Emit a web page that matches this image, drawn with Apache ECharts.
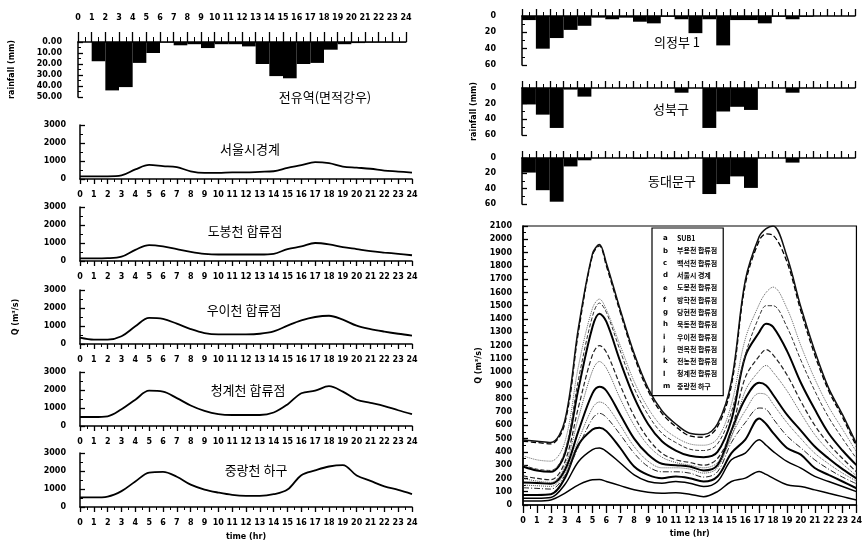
<!DOCTYPE html>
<html><head><meta charset="utf-8">
<script src="https://cdn.jsdelivr.net/npm/echarts@6/dist/echarts.min.js"></script>
<style>html,body{margin:0;padding:0;background:#fff}#c{width:865px;height:547px}</style>
</head><body><div id="c"></div>
<script>
// ---------- DATA ----------
const hours = [0,1,2,3,4,5,6,7,8,9,10,11,12,13,14,15,16,17,18,19,20,21,22,23,24];
const hoursFine = [0,1,2,3,4,5,5.5,6,7,8,9,10,11,12,13,14,15,16,17,17.5,18,19,20,21,22,23,24];

// hourly rainfall (mm), hour i -> i+1
const areaRain   = [0,17.5,44,41,19,10,0.5,3,2,5.5,2,2,4,20,31,33,20,19,7,2,1,0.5,0.5,0.5];
const uijeongbu  = [5,40,27,17,12,2,4,2,7,9,1,4,21,4,36,5,5,9,1,4,1,0,0,0];
const seongbuk   = [21,34,51,2,11,0,0,0,0,0,0,6,0,51,30,24,28,0,0,6,0,0,0,0];
const dongdaemun = [19,42,57,11,3,0,0,0,1,0,1.5,1.5,0,47,34,24,39,0,0,6,0,0,0,0];

// left discharge panels (m3/s) at hours 0..24
const qSeoulBoundary = [150,150,150,200,530,780,720,660,430,340,340,370,370,400,430,620,770,940,880,690,630,570,470,415,350];
const qDobong        = [150,150,160,240,620,880,810,660,510,400,360,360,360,360,400,660,810,1000,925,770,660,550,470,400,320];
const qUi            = [350,240,240,430,980,1450,1390,1130,830,610,540,540,540,570,700,1020,1310,1500,1570,1350,1020,830,690,570,470];
const qCheonggye     = [500,500,540,930,1460,1960,1910,1550,1140,840,660,610,610,610,750,1200,1820,1960,2210,1910,1460,1290,1110,875,660];
const qJungnang      = [530,530,580,880,1420,1910,1950,1680,1240,970,800,670,620,620,710,970,1770,2035,2250,2330,1750,1450,1150,950,720];

// right main chart (m3/s) at hoursFine
const letters = ['a','b','c','d','e','f','g','h','i','j','k','l','m'];
const names = ['SUB1','부용천 합류점','백석천 합류점','서울시 경계','도봉천 합류점','방학천 합류점','당현천 합류점','묵동천 합류점','우이천 합류점','면목천 합류점','전농천 합류점','청계천 합류점','중랑천 하구'];
const qA = [30,30,38,88,152,190,192,177,146,114,96,88,93,81,63,101,177,202,253,230,202,152,139,114,88,63,38];
const qB = [50,50,56,152,328,417,429,404,316,227,177,164,177,164,139,177,341,391,492,450,404,328,278,215,177,139,101];
const qC = [76,76,81,200,455,568,581,556,429,290,227,202,215,202,177,215,391,492,652,610,543,429,379,278,227,177,126];
const qD = [130,125,120,220,440,650,690,660,530,390,290,250,250,240,210,250,470,620,730,720,650,520,430,340,270,210,160];
const qE = [150,145,140,240,490,730,775,750,600,440,330,280,280,270,240,280,520,710,840,830,760,620,500,390,310,240,180];
const qF = [170,165,160,260,560,840,890,860,680,500,380,310,300,290,260,300,560,800,920,900,830,680,560,440,350,270,200];
const qG = [200,180,170,290,660,1010,1080,1030,800,600,450,360,320,300,280,320,510,860,1010,1050,1000,860,690,530,410,310,220];
const qH = [220,200,190,320,740,1130,1200,1150,900,670,500,390,340,320,300,350,560,960,1120,1170,1130,980,780,600,460,350,250];
const qI = [290,260,250,380,880,1340,1440,1380,1080,810,610,480,410,370,360,400,640,1120,1300,1365,1340,1160,920,720,540,410,300];
const qJ = [300,270,260,400,950,1420,1520,1450,1160,880,680,540,470,420,410,460,700,1130,1420,1500,1500,1340,1090,860,660,500,350];
const qK = [370,340,330,470,1050,1480,1550,1470,1200,930,730,590,510,460,450,500,760,1250,1510,1600,1640,1480,1200,950,740,570,400];
const qL = [480,470,460,610,1310,1880,1950,1800,1450,1120,860,690,590,520,510,590,900,1660,1990,2040,2030,1830,1460,1130,860,660,440];
const qM = [490,480,470,630,1340,1890,1960,1820,1470,1140,880,710,610,540,530,610,930,1690,2020,2080,2100,1870,1490,1160,880,680,460];
const mainSeries = [qA,qB,qC,qD,qE,qF,qG,qH,qI,qJ,qK,qL,qM];

// ---------- STYLE ----------
const F = 'DejaVu Sans', K = 'Noto Sans CJK KR';
const plain = v => String(v);
const lab = {fontFamily:F, fontSize:8, fontWeight:'bold', color:'#000', formatter:plain};
const aLine = {show:true, onZero:false, lineStyle:{color:'#000', width:1.5}};
const styles = [
  {type:'solid', width:1.5, color:'#000'},
  {type:'solid', width:1.5, color:'#000'},
  {type:'solid', width:2, color:'#000'},
  {type:[6,2,1,2], width:1, color:'#222'},
  {type:'dotted', width:1, color:'#555'},
  {type:'solid', width:2, color:'#000'},
  {type:'dotted', width:1, color:'#555'},
  {type:'dashed', width:1.2, color:'#222'},
  {type:'solid', width:2, color:'#000'},
  {type:'dashed', width:1, color:'#333'},
  {type:'dotted', width:1, color:'#666'},
  {type:'dashed', width:1.3, color:'#000'},
  {type:'solid', width:1.5, color:'#111'}
];

const grids = [
  {left:78, top:42, width:328, height:55},
  {left:80, top:125, width:332, height:54},
  {left:80, top:207, width:332, height:54},
  {left:80, top:290, width:332, height:54},
  {left:80, top:372, width:332, height:54},
  {left:80, top:453, width:332, height:54},
  {left:522, top:16, width:333, height:49},
  {left:522, top:88, width:333, height:47},
  {left:522, top:158, width:333, height:46},
  {left:523, top:226, width:337, height:279, show:true, borderColor:'#000', borderWidth:1.2, backgroundColor:'transparent'}
];

const xAxes = [], yAxes = [], series = [];
function xAx(gi, opt) {
  xAxes.push(Object.assign({
    gridIndex:gi, type:'value', min:0, max:24, interval:1,
    axisLine:aLine, splitLine:{show:false},
    axisTick:{show:true, length:5, lineStyle:{color:'#000', width:1.3}},
    minorTick:{show:true, splitNumber:2, length:3, lineStyle:{color:'#000', width:1}},
    axisLabel:Object.assign({}, lab, {margin:12})
  }, opt));
}
function yAx(gi, opt) {
  yAxes.push(Object.assign({
    gridIndex:gi, type:'value',
    axisLine:aLine, splitLine:{show:false},
    axisTick:{show:true, inside:true, length:5, lineStyle:{color:'#000', width:1.3}},
    minorTick:{show:true, splitNumber:2, length:3, lineStyle:{color:'#000', width:1}},
    axisLabel:Object.assign({}, lab, {margin:14})
  }, opt));
}
function rainBars(gi, data) {
  series.push({
    type:'custom', xAxisIndex:gi, yAxisIndex:gi,
    data:data.map((v,i)=>[hours[i], hours[i+1], v]),
    encode:{x:[0,1], y:2},
    renderItem:(params, api)=>{
      const p0 = api.coord([api.value(0), 0]);
      const p1 = api.coord([api.value(1), api.value(2)]);
      return {type:'rect', shape:{x:p0[0], y:Math.min(p0[1],p1[1]), width:p1[0]-p0[0], height:Math.abs(p1[1]-p0[1])}, style:{fill:'#000'}};
    }
  });
}
function qLine(gi, data) {
  series.push({
    type:'line', xAxisIndex:gi, yAxisIndex:gi, symbol:'none', smooth:0.35,
    data:data.map((v,i)=>[hours[i], v]),
    lineStyle:{color:'#000', width:1.8}
  });
}
const nameStyle = {fontFamily:F, fontSize:8, fontWeight:'bold', color:'#000'};

// left rain
xAx(0, {position:'top', axisTick:{show:true, length:10, lineStyle:{color:'#000', width:1.3}},
        minorTick:{show:true, splitNumber:2, length:5, lineStyle:{color:'#000', width:1}},
        axisLabel:Object.assign({}, lab, {margin:20})});
yAx(0, {min:0, max:50, interval:10, inverse:true,
        axisLabel:Object.assign({}, lab, {margin:16, formatter:v=>v.toFixed(2)}),
        name:'rainfall (mm)', nameLocation:'middle', nameGap:62, nameRotate:90, nameTextStyle:nameStyle});
rainBars(0, areaRain);

// left discharge panels
const qs = [qSeoulBoundary, qDobong, qUi, qCheonggye, qJungnang];
qs.forEach((d, k) => {
  const gi = k + 1;
  const ext = gi === 5 ? {name:'time (hr)', nameLocation:'middle', nameGap:26, nameTextStyle:nameStyle} : {};
  xAx(gi, ext);
  const yext = gi === 3 ? {name:'Q (m³/s)', nameLocation:'middle', nameGap:60, nameRotate:90, nameTextStyle:nameStyle} : {};
  yAx(gi, Object.assign({min:0, max:3000, interval:1000}, yext));
  qLine(gi, d);
});

// right rain panels
[uijeongbu, seongbuk, dongdaemun].forEach((d, k) => {
  const gi = k + 6;
  xAx(gi, {position:'top', axisLabel:{show:false},
           axisTick:{show:true, length:7, lineStyle:{color:'#000', width:1.3}},
           minorTick:{show:true, splitNumber:2, length:4, lineStyle:{color:'#000', width:1}}});
  const yext = gi === 7 ? {name:'rainfall (mm)', nameLocation:'middle', nameGap:44, nameRotate:90, nameTextStyle:nameStyle} : {};
  yAx(gi, Object.assign({min:0, max:60, interval:20, inverse:true,
           axisLabel:Object.assign({}, lab, {margin:26})}, yext));
  rainBars(gi, d);
});

// right main chart
xAx(9, {axisTick:{show:true, length:8, lineStyle:{color:'#000', width:1.3}},
        minorTick:{show:true, splitNumber:2, length:4, lineStyle:{color:'#000', width:1}},
        axisLabel:Object.assign({}, lab, {margin:12}),
        name:'time (hr)', nameLocation:'middle', nameGap:25, nameTextStyle:nameStyle});
yAx(9, {min:0, max:2100, interval:100, axisLabel:Object.assign({}, lab, {margin:11}),
        name:'Q (m³/s)', nameLocation:'middle', nameGap:40, nameRotate:90, nameTextStyle:nameStyle});
mainSeries.forEach((d, k) => {
  series.push({
    name:names[k], type:'line', xAxisIndex:9, yAxisIndex:9, symbol:'none', smooth:0.35,
    data:d.map((v,i)=>[hoursFine[i], v]), lineStyle:styles[k], color:'#000'
  });
});

const tStyle = {fontFamily:K, fontSize:13, fontWeight:'normal', color:'#000'};
const titles = [
  ['전유역(면적강우)', 325, 91],
  ['서울시경계', 250, 143],
  ['도봉천 합류점', 245, 225],
  ['우이천 합류점', 244, 304],
  ['청계천 합류점', 248, 384],
  ['중랑천 하구', 256, 464],
  ['의정부 1', 677, 36],
  ['성북구', 671, 103],
  ['동대문구', 672, 175]
].map(t => ({text:t[0], left:t[1], top:t[2], textAlign:'center', textStyle:tStyle, padding:0}));

const option = {
  backgroundColor:'#fff',
  animation:false,
  title:titles,
  grid:grids,
  xAxis:xAxes,
  yAxis:yAxes,
  legend:{
    data:names, orient:'vertical', left:652, top:228, icon:'none', itemWidth:0, itemHeight:9, itemGap:4.3,
    padding:[6,6,6,6], backgroundColor:'#fff', borderColor:'#000', borderWidth:1.2, selectedMode:false,
    formatter:name => '{l|' + letters[names.indexOf(name)] + '}{n|' + name + '}',
    textStyle:{color:'#000', rich:{l:{width:14, fontSize:7, fontFamily:F, fontWeight:'bold', color:'#000'},
                                  n:{fontSize:7, fontFamily:K, fontWeight:'bold', color:'#000'}}}
  },
  series:series
};
const chart = echarts.init(document.getElementById('c'), null, {renderer:'canvas'});
chart.setOption(option);
</script>
</body></html>
